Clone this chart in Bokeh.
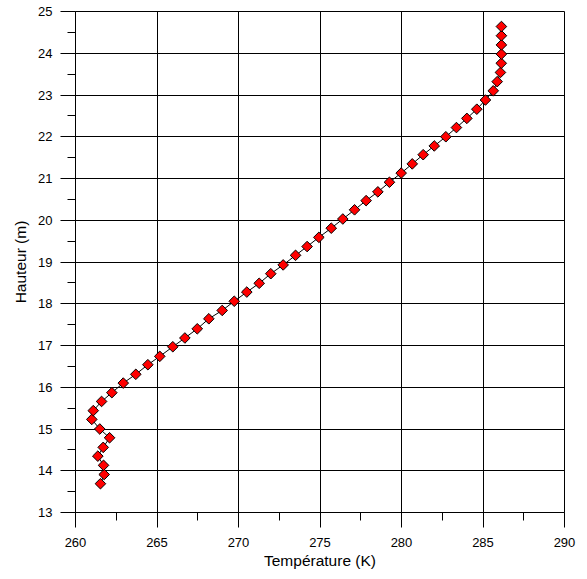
import math
from bokeh.plotting import figure
from bokeh.models import FixedTicker, Range1d
from bokeh.embed import file_html
from bokeh.resources import INLINE

temperature = [261.53, 261.76, 261.72, 261.37, 261.70, 262.09, 261.49, 261.00, 261.09, 261.60,
               262.23, 262.93, 263.70, 264.44, 265.17, 265.97, 266.71, 267.47, 268.18,
               269.00, 269.74, 270.51, 271.27, 271.98, 272.74, 273.50, 274.21, 274.93,
               275.69, 276.40, 277.12, 277.83, 278.55,
               279.26, 279.98, 280.66, 281.33, 282.01, 282.72, 283.37, 284.01, 284.62,
               285.15, 285.63, 285.87, 286.07, 286.12, 286.13, 286.13, 286.13, 286.13]
hauteur = [13.69, 13.91, 14.13, 14.35, 14.56, 14.79, 15.00, 15.23, 15.44, 15.66,
           15.87, 16.10, 16.31, 16.54, 16.74, 16.97, 17.18, 17.40, 17.64,
           17.84, 18.06, 18.28, 18.49, 18.72, 18.93, 19.16, 19.37, 19.59,
           19.81, 20.03, 20.25, 20.47, 20.68,
           20.91, 21.13, 21.35, 21.57, 21.78, 22.00, 22.22, 22.44, 22.66,
           22.88, 23.10, 23.32, 23.54, 23.76, 23.98, 24.20, 24.42, 24.64]

x_ticks = [260, 265, 270, 275, 280, 285, 290]
y_ticks = [13, 14, 15, 16, 17, 18, 19, 20, 21, 22, 23, 24, 25]
x_minor = [262.5, 267.5, 272.5, 277.5, 282.5, 287.5]
y_minor = [13.5, 14.5, 15.5, 16.5, 17.5, 18.5, 19.5, 20.5, 21.5, 22.5, 23.5, 24.5]

FONT = "Liberation Sans"

p = figure(width=587, height=579, output_backend="svg", toolbar_location=None,
           x_range=Range1d(260, 290), y_range=Range1d(13, 25),
           min_border_left=75, min_border_right=23, min_border_top=11, min_border_bottom=67)
p.background_fill_color = "white"
p.border_fill_color = "white"
p.outline_line_color = "black"
p.outline_line_width = 1

p.line(temperature, hauteur, line_color="black", line_width=1)
p.scatter(temperature, hauteur, marker="square", size=7.5, angle=math.pi / 4,
          fill_color="red", line_color="black", line_width=1)

for ax, ticks, minor in ((p.xaxis[0], x_ticks, x_minor), (p.yaxis[0], y_ticks, y_minor)):
    ax.ticker = FixedTicker(ticks=ticks, minor_ticks=minor)
    ax.axis_line_color = "black"
    ax.major_tick_line_color = "black"
    ax.minor_tick_line_color = "black"
    ax.major_tick_in = 0
    ax.major_tick_out = 15
    ax.minor_tick_in = 0
    ax.minor_tick_out = 8
    ax.major_label_text_font = FONT
    ax.major_label_text_font_size = "13px"
    ax.major_label_text_color = "black"
    ax.axis_label_text_font = FONT
    ax.axis_label_text_font_size = "15.5px"
    ax.axis_label_text_font_style = "normal"
    ax.axis_label_text_color = "black"

p.xaxis.axis_label = "Température (K)"
p.yaxis.axis_label = "Hauteur (m)"
p.xaxis.major_label_standoff = 10
p.yaxis.major_label_standoff = 8
p.xaxis.axis_label_standoff = 2
p.yaxis.axis_label_standoff = 6

p.xgrid.ticker = FixedTicker(ticks=x_ticks)
p.ygrid.ticker = FixedTicker(ticks=y_ticks)
p.grid.grid_line_color = "black"
p.grid.grid_line_width = 1
p.grid.grid_line_alpha = 1.0

open("out.html", "w").write(file_html(p, INLINE))
